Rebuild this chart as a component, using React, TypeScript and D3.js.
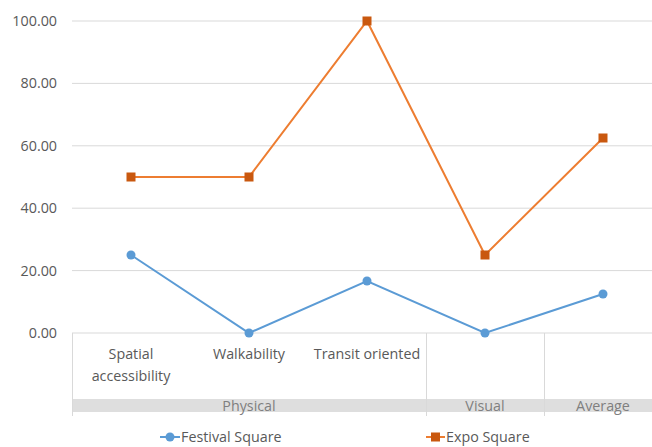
import React from "react";
import * as d3 from "d3";

const categories: string[][] = [["Spatial", "accessibility"], ["Walkability"], ["Transit oriented"], [""], [""]];
const groups = [
  { name: "Physical", start: 0, end: 3 },
  { name: "Visual", start: 3, end: 4 },
  { name: "Average", start: 4, end: 5 },
];
const festival = [25, 0, 16.67, 0, 12.5];
const expo = [50, 50, 100, 25, 62.5];
const yTicks = [0, 20, 40, 60, 80, 100];
const seriesNames = ["Festival Square", "Expo Square"];

const W = 652, H = 447;
const font = "'Open Sans', sans-serif";
const fs = 14.3;
const textColor = "#595959";

export default function App() {
  const x = d3.scaleBand<number>().domain(d3.range(5)).range([72, 662]).padding(0);
  const y = d3.scaleLinear().domain([0, 100]).range([333, 21]);
  const cx = (i: number) => (x(i) as number) + x.bandwidth() / 2;
  const line = d3.line<number>().x((_, i) => cx(i)).y((d) => y(d));
  const edges = [0, 3, 4, 5].map((i) => (i < 5 ? (x(i) as number) : 662));
  return (
    <svg width={W} height={H} style={{ position: "absolute", left: 0, top: 0, background: "#fff" }}>
      {yTicks.map((t) => (
        <g key={t}>
          <line x1={72} x2={W} y1={y(t)} y2={y(t)} stroke="#d9d9d9" strokeWidth={1} />
          <text x={57} y={y(t)} dy="0.35em" textAnchor="end" fontFamily={font} fontSize={fs} fill={textColor}>
            {t.toFixed(2)}
          </text>
        </g>
      ))}
      <rect x={72} y={399} width={W - 72} height={13} fill="#dedede" />
      {edges.slice(0, 3).map((e, i) => (
        <line key={i} x1={e + 0.5} x2={e + 0.5} y1={333} y2={416} stroke="#d9d9d9" strokeWidth={1} />
      ))}
      {categories.map((lines, i) =>
        lines.map((l, j) => (
          <text key={i + "-" + j} x={cx(i)} y={359 + j * 22} textAnchor="middle" fontFamily={font} fontSize={fs} fill={textColor}>
            {l}
          </text>
        ))
      )}
      {groups.map((g) => (
        <text key={g.name} x={((x(g.start) as number) + (g.end < 5 ? (x(g.end) as number) : 662)) / 2}
          y={411} textAnchor="middle" fontFamily={font} fontSize={fs} fill="#7f7f7f">
          {g.name}
        </text>
      ))}
      <path d={line(festival) || ""} fill="none" stroke="#5B9BD5" strokeWidth={2} />
      <path d={line(expo) || ""} fill="none" stroke="#ED7D31" strokeWidth={2} />
      {festival.map((v, i) => (
        <circle key={"f" + i} cx={cx(i)} cy={y(v)} r={4.5} fill="#5B9BD5" />
      ))}
      {expo.map((v, i) => (
        <rect key={"e" + i} x={cx(i) - 4.5} y={y(v) - 4.5} width={9} height={9} fill="#C9580F" />
      ))}
      <g>
        <line x1={160} x2={180} y1={437} y2={437} stroke="#5B9BD5" strokeWidth={2} />
        <circle cx={170} cy={437} r={4.5} fill="#5B9BD5" />
        <text x={181} y={437} dy="0.35em" fontFamily={font} fontSize={fs} fill={textColor}>{seriesNames[0]}</text>
        <line x1={426} x2={445} y1={437} y2={437} stroke="#ED7D31" strokeWidth={2} />
        <rect x={431} y={432.5} width={9} height={9} fill="#C9580F" />
        <text x={446} y={437} dy="0.35em" fontFamily={font} fontSize={fs} fill={textColor}>{seriesNames[1]}</text>
      </g>
    </svg>
  );
}
